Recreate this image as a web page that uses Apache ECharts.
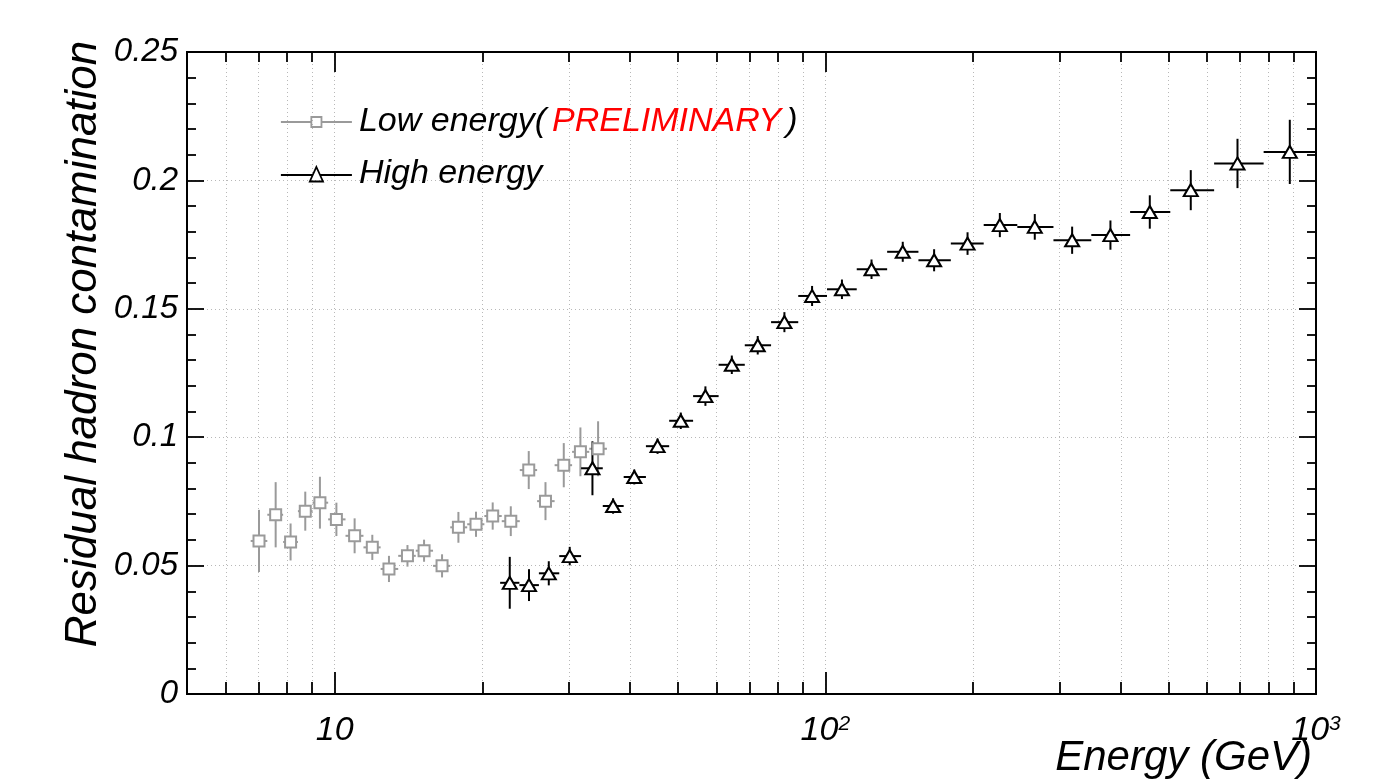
<!DOCTYPE html>
<html>
<head>
<meta charset="utf-8">
<script src="https://cdn.jsdelivr.net/npm/echarts@6/dist/echarts.min.js"></script>
<style>html,body{margin:0;background:#fff}#main{width:1394px;height:782px}</style>
</head>
<body>
<div id="main"></div>
<script>
// low energy analysis (preliminary), gray squares
var lowEnergy = [7.01, 7.58, 8.13, 8.71, 9.33, 10.08, 10.98, 11.93, 12.90, 14.07, 15.21, 16.55, 17.87, 19.41, 20.99, 22.85, 24.86, 26.89, 29.30, 31.68, 34.42];
var lowValue = [0.0596, 0.0698, 0.0592, 0.0712, 0.0745, 0.0680, 0.0616, 0.0571, 0.0487, 0.0538, 0.0558, 0.0499, 0.0649, 0.0661, 0.0693, 0.0673, 0.0872, 0.0751, 0.0891, 0.0943, 0.0955];
var lowError = [0.0121, 0.0127, 0.0072, 0.0076, 0.0101, 0.0065, 0.0068, 0.0049, 0.0051, 0.0042, 0.0043, 0.0045, 0.0060, 0.0049, 0.0053, 0.0058, 0.0074, 0.0074, 0.0086, 0.0095, 0.0107];

// high energy analysis, black triangles
var highEnergy = [22.74, 24.89, 27.31, 30.13, 33.52, 36.93, 40.79, 45.50, 50.74, 56.96, 64.47, 72.81, 82.52, 93.96, 108.1, 124.2, 143.8, 166.6, 194.9, 226.8, 267.2, 318.4, 381.1, 458.4, 555.6, 691.8, 884.3];
var highValue = [0.0433, 0.0424, 0.0470, 0.0537, 0.0879, 0.0732, 0.0845, 0.0965, 0.1064, 0.1160, 0.1282, 0.1358, 0.1448, 0.1550, 0.1576, 0.1654, 0.1722, 0.1689, 0.1754, 0.1826, 0.1819, 0.1767, 0.1787, 0.1877, 0.1962, 0.2066, 0.2111];
var highError = [0.0101, 0.0062, 0.0047, 0.0036, 0.0105, 0.0030, 0.0029, 0.0030, 0.0032, 0.0038, 0.0036, 0.0036, 0.0039, 0.0039, 0.0038, 0.0038, 0.0039, 0.0043, 0.0044, 0.0047, 0.0050, 0.0053, 0.0057, 0.0065, 0.0078, 0.0096, 0.0125];

var xMinorTicks = [6, 7, 8, 9, 20, 30, 40, 50, 60, 70, 80, 90, 200, 300, 400, 500, 600, 700, 800, 900];
var xMajorTicks = [10, 100];
var xLabels = [10, 100, 1000];

var FONT = 'Liberation Sans';
var GRAY = '#9a9a9a';

// bin edges half way (in log) between neighbouring points
function binEdges(xs) {
    return xs.map(function (x, i) {
        var prev = i > 0 ? xs[i - 1] : x * x / xs[i + 1];
        var next = i < xs.length - 1 ? xs[i + 1] : x * x / xs[i - 1];
        return [Math.sqrt(prev * x), Math.sqrt(x * next)];
    });
}

function errData(xs, ys, es) {
    var edges = binEdges(xs);
    return xs.map(function (x, i) {
        return [x, ys[i], es[i], edges[i][0], edges[i][1]];
    });
}

function points(xs, ys) {
    return xs.map(function (x, i) { return [x, ys[i]]; });
}

function renderErr(color) {
    return function (params, api) {
        var e = api.value(0), v = api.value(1), err = api.value(2);
        var top = api.coord([e, v + err]);
        var bot = api.coord([e, v - err]);
        var l = api.coord([api.value(3), v]);
        var r = api.coord([api.value(4), v]);
        var style = { stroke: color, lineWidth: 2 };
        return {
            type: 'group',
            children: [
                { type: 'line', shape: { x1: top[0], y1: top[1], x2: bot[0], y2: bot[1] }, style: style },
                { type: 'line', shape: { x1: l[0], y1: l[1], x2: r[0], y2: r[1] }, style: style }
            ]
        };
    };
}

var dotted = { show: true, lineStyle: { color: '#b8b8b8', width: 1, type: [1, 3] } };

function xAxis(pos, ticks, len, label, split) {
    return {
        type: 'log', logBase: 10, min: 5, max: 1000, position: pos,
        axisLine: { show: true, onZero: false, lineStyle: { color: '#000', width: 2 } },
        axisTick: { show: true, inside: true, length: len, customValues: ticks, lineStyle: { color: '#000', width: 1.8 } },
        axisLabel: label ? {
            show: true, customValues: xLabels, margin: 20,
            color: '#000', fontFamily: FONT, fontStyle: 'italic', fontSize: 34,
            formatter: function (v) {
                var p = Math.round(Math.log10(v));
                return p === 1 ? '10' : '10{s|' + p + '}';
            },
            rich: { s: { fontFamily: FONT, fontStyle: 'italic', fontSize: 21, verticalAlign: 'top', color: '#000' } }
        } : { show: false },
        splitLine: split ? dotted : { show: false }
    };
}

function yAxis(pos, label, split) {
    return {
        type: 'value', min: 0, max: 0.25, interval: 0.05, position: pos,
        axisLine: { show: true, onZero: false, lineStyle: { color: '#000', width: 2 } },
        axisTick: { show: true, inside: true, length: 17, lineStyle: { color: '#000', width: 1.8 } },
        minorTick: { show: true, splitNumber: 5, length: 9, lineStyle: { color: '#000', width: 1.8 } },
        axisLabel: label ? { show: true, margin: 9, color: '#000', fontFamily: FONT, fontStyle: 'italic', fontSize: 33 } : { show: false },
        splitLine: split ? dotted : { show: false },
        minorSplitLine: { show: false }
    };
}

var myChart = echarts.init(document.getElementById('main'));

var option = {
    animation: false,
    backgroundColor: '#fff',
    grid: { left: 187, right: 78, top: 52, bottom: 88, containLabel: false },
    xAxis: [
        xAxis('bottom', xMinorTicks, 12, false, true),
        xAxis('bottom', xMajorTicks, 22, true, true),
        xAxis('top', xMinorTicks, 10, false, false),
        xAxis('top', xMajorTicks, 20, false, false)
    ],
    yAxis: [
        yAxis('left', true, true),
        yAxis('right', false, false)
    ],
    legend: {
        left: 275, top: 97, orient: 'vertical',
        itemWidth: 71, itemHeight: 16, itemGap: 12,
        selectedMode: false, symbolKeepAspect: false,
        data: [
            { name: 'Low energy', icon: 'path://M0,8L30,8M30,3L40,3L40,13L30,13ZM40,8L70,8M0,0M70,16',
              itemStyle: { color: 'rgba(0,0,0,0)', borderColor: GRAY, borderWidth: 1.8 } },
            { name: 'High energy', icon: 'path://M0,9L31.4,9M38.6,9L70,9M35,1L41.5,15.5L28.5,15.5ZM0,0M70,16',
              itemStyle: { color: 'rgba(0,0,0,0)', borderColor: '#000', borderWidth: 1.8 } }
        ],
        formatter: function (name) {
            return name === 'Low energy' ? '{b|Low energy(}{r|PRELIMINARY}{b|)}' : '{b|High energy}';
        },
        textStyle: {
            padding: [0, 0, 0, 2], lineHeight: 40,
            rich: {
                b: { fontFamily: FONT, fontStyle: 'italic', fontSize: 34, color: '#000', lineHeight: 40 },
                r: { fontFamily: FONT, fontStyle: 'italic', fontSize: 34, color: '#ff0000', lineHeight: 40, padding: [0, 5, 0, 6] }
            }
        }
    },
    graphic: [
        { type: 'text', x: 84, y: 344, rotation: Math.PI / 2,
          style: { text: 'Residual hadron contamination', fontFamily: FONT, fontStyle: 'italic', fontSize: 44, fill: '#000', align: 'center', verticalAlign: 'middle' } },
        { type: 'text', x: 1312, y: 758,
          style: { text: 'Energy (GeV)', fontFamily: FONT, fontStyle: 'italic', fontSize: 42, fill: '#000', align: 'right', verticalAlign: 'middle' } }
    ],
    series: [
        { name: 'lowErr', type: 'custom', renderItem: renderErr(GRAY), clip: true,
          encode: { x: 0, y: 1 }, data: errData(lowEnergy, lowValue, lowError), z: 2 },
        { name: 'highErr', type: 'custom', renderItem: renderErr('#000'), clip: true,
          encode: { x: 0, y: 1 }, data: errData(highEnergy, highValue, highError), z: 2 },
        { name: 'Low energy', type: 'scatter', symbol: 'rect', symbolSize: 11,
          itemStyle: { color: '#fff', borderColor: GRAY, borderWidth: 2, opacity: 1 },
          data: points(lowEnergy, lowValue), z: 3 },
        { name: 'High energy', type: 'scatter', symbol: 'triangle', symbolSize: [14, 12],
          itemStyle: { color: '#fff', borderColor: '#000', borderWidth: 2, opacity: 1 },
          data: points(highEnergy, highValue), z: 4 }
    ]
};

myChart.setOption(option);
</script>
</body>
</html>
